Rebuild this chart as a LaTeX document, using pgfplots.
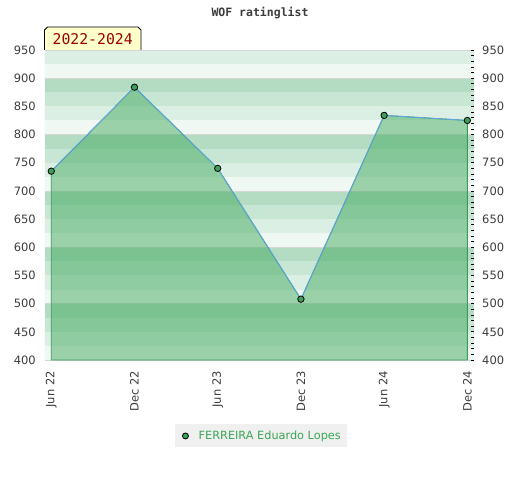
\documentclass[border=0pt]{standalone}
\usepackage{pgfplots}
\pgfplotsset{compat=1.18}
\usepackage{fontspec}
\setmainfont{DejaVu Sans}
\newfontfamily\monofont{DejaVu Sans Mono}
\definecolor{sD}{RGB}{179,220,195}
\definecolor{sM}{RGB}{200,230,212}
\definecolor{sL}{RGB}{220,239,228}
\definecolor{sX}{RGB}{239,248,242}
\definecolor{gridgray}{RGB}{215,215,215}
\definecolor{fillgreen}{RGB}{59,166,87}
\definecolor{edgegreen}{RGB}{60,155,90}
\definecolor{markgreen}{RGB}{58,160,90}
\definecolor{lineblue}{RGB}{95,165,225}
\definecolor{labelgray}{RGB}{60,60,60}
\definecolor{legendgreen}{RGB}{58,166,85}
\definecolor{legendgray}{RGB}{240,240,240}
\definecolor{boxyellow}{RGB}{255,255,204}
\definecolor{boxred}{RGB}{153,0,0}
\def\xa{-0.0757}
\def\xb{5.08}
\begin{document}
\begin{tikzpicture}[x=1pt,y=1pt]
\useasboundingbox (0,0) rectangle (520,480);
\begin{axis}[
  at={(45pt,120pt)}, anchor=south west,
  scale only axis, width=429pt, height=310pt,
  xmin=\xa, xmax=\xb, ymin=400, ymax=950,
  axis line style={draw=none},
  major tick length=0pt,
  ytick={400,450,...,950},
  xtick={0,...,5},
  xticklabels={Jun 22,Dec 22,Jun 23,Dec 23,Jun 24,Dec 24},
  /pgf/number format/assume math mode=true,
  yticklabel style={inner sep=0pt, font=\fontsize{11.5}{13}\selectfont, text=labelgray},
  yticklabel shift=9pt,
  xticklabel style={rotate=90, anchor=east, inner sep=0pt, font=\fontsize{11.5}{13}\selectfont, text=labelgray},
  xticklabel shift=11pt,
  legend image code/.code={\path (0pt,0pt) (17pt,0pt); \draw[#1] plot coordinates {(6pt,0pt)};},
  legend style={at={(0.5035,-0.245)}, anchor=center, fill=legendgray, draw=none,
    font=\fontsize{11.3}{13}\selectfont, text=legendgreen, inner xsep=4pt, inner ysep=4.5pt,
    nodes={inner sep=2pt}},
]
% background stripes
\fill[sD] (axis cs:\xa,400) rectangle (axis cs:\xb,950);
\pgfplotsinvokeforeach{4,...,9}{
  \fill[sX] (axis cs:\xa,#100) rectangle (axis cs:\xb,#125);
  \fill[sL] (axis cs:\xa,#125) rectangle (axis cs:\xb,#150);
  \fill[sM] (axis cs:\xa,#150) rectangle (axis cs:\xb,#175);
}
\pgfplotsinvokeforeach{5,...,9}{
  \draw[gridgray, line width=0.8pt] (axis cs:\xa,#100) -- (axis cs:\xb,#100);
}
\draw[gridgray, line width=1pt] (axis cs:\xb,400) -- (axis cs:\xa,400) -- (axis cs:\xa,950) -- (axis cs:\xb,950);
% filled area
\addplot[fill=fillgreen, fill opacity=0.47, draw=edgegreen, line width=0.9pt, forget plot]
  coordinates {(0,735) (1,884) (2,740) (3,508) (4,834) (5,825)} \closedcycle;
% line with markers
\addplot[draw=lineblue, line width=0.9pt, mark=*, mark size=3.2pt,
  mark options={fill=markgreen, draw=black, line width=0.8pt}, forget plot]
  coordinates {(0,735) (1,884) (2,740) (3,508) (4,834) (5,825)};
\addlegendimage{only marks, mark=*, mark size=3pt, mark options={fill=markgreen, draw=black, line width=0.8pt}}
\addlegendentry{FERREIRA Eduardo Lopes}
\end{axis}
\begin{axis}[
  at={(45pt,120pt)}, anchor=south west,
  scale only axis, width=429pt, height=310pt,
  xmin=\xa, xmax=\xb, ymin=400, ymax=950,
  axis x line=none,
  axis y line*=right,
  axis line style={draw=none},
  ytick={400,450,...,950},
  minor y tick num=4,
  tick align=inside,
  major tick length=3.5pt, minor tick length=3pt,
  every tick/.style={black, line width=0.8pt},
  /pgf/number format/assume math mode=true,
  yticklabel style={inner sep=0pt, font=\fontsize{11.5}{13}\selectfont, text=labelgray},
  yticklabel shift=8pt,
]
\addplot[draw=none, forget plot] coordinates {(0,500)};
\end{axis}
\node[font=\monofont\bfseries\fontsize{11.5}{13}\selectfont, text=labelgray] at (260,467) {WOF ratinglist};
\fill[boxyellow] (44.5,430)--(44.5,450)--(47.5,453)--(138,453)--(141,450)--(141,430)--cycle;
\draw[black, line width=0.8pt] (44.5,430)--(44.5,450)--(47.5,453)--(138,453)--(141,450)--(141,430);
\node[font=\monofont\fontsize{14.8}{16}\selectfont, text=boxred] at (92.7,441) {2022-2024};
\end{tikzpicture}
\end{document}
